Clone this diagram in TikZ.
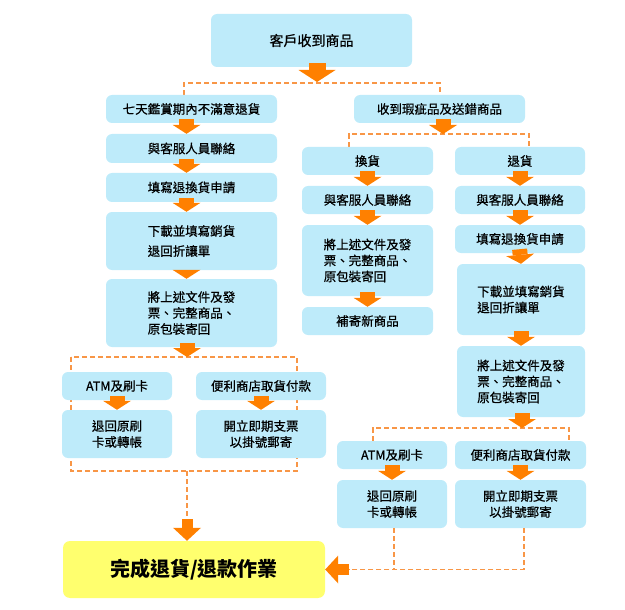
\documentclass[tikz,border=0pt]{standalone}
\usepackage{fontspec}
\setmainfont{Noto Sans CJK TC}
\newfontfamily\boxfont{Noto Sans CJK TC}[FakeBold=0.7]
\usetikzlibrary{arrows.meta}
\usetikzlibrary{backgrounds}

\definecolor{boxblue}{RGB}{190,235,250}
\definecolor{arroworange}{RGB}{255,128,0}
\definecolor{dashorange}{RGB}{248,150,70}
\definecolor{doneyellow}{RGB}{255,255,110}

\begin{document}
\begin{tikzpicture}[
    x=1pt, y=-1pt,
    box/.style={fill=boxblue, rounded corners=6pt, inner sep=0pt, minimum height=28pt,
        font=\boxfont\fontsize{12.5}{16}\selectfont, align=center},
    colL/.style={box, minimum width=171pt},
    colR/.style={box, minimum width=130pt},
    pay/.style={box, minimum width=110pt},
    fat/.style={arroworange, line width=15pt, shorten <=-4pt,
        -{Triangle[width=28pt,length=9pt,line width=0pt]}},
    big/.style={line width=17pt, -{Triangle[width=37pt,length=12pt,line width=0pt]}},
    fatS/.style={arroworange, line width=11pt,
        -{Triangle[width=28pt,length=13pt,line width=0pt]}},
    bracket/.style={dashorange, line width=1.2pt, dash pattern=on 5pt off 3pt},
 ]
    \useasboundingbox (0,0) rectangle (625,610);

    \node[box, minimum width=201pt, minimum height=53pt, font=\boxfont\fontsize{14}{16}\selectfont] (top) at (311.5,40.5) {客戶收到商品};
    \coordinate (tm) at (317,82);
    \coordinate (t1) at (184,83);
    \coordinate (t2) at (440,83);

    \node[colL] (L1) at (191.5,109) {七天鑑賞期內不滿意退貨};
    \node[colL, minimum height=29pt] (L2) at (191.5,148.5) {與客服人員聯絡};
    \node[colL, minimum height=29pt] (L3) at (191.5,187.5) {填寫退換貨申請};
    \node[colL, minimum height=58pt, align=left] (L4) at (191.5,241) {下載並填寫銷貨\\[4pt]退回折讓單};
    \node[colL, minimum height=68pt, align=left] (L5) at (191.5,313) {將上述文件及發\\票、完整商品、\\原包裝寄回};

    \coordinate (lin) at (187,357);
    \coordinate (lfA) at (71,357);
    \coordinate (lfB) at (297,471);
    \coordinate (lbot) at (187,471);
    \coordinate (ldrop) at (187,519);
    \node[pay] (LA) at (117,386) {ATM及刷卡};
    \node[box, minimum width=130pt] (LB) at (261,386) {便利商店取貨付款};
    \node[pay, minimum height=48pt] (LC) at (117,434) {退回原刷\\卡或轉帳};
    \node[box, minimum width=130pt, minimum height=48pt] (LD) at (261,434) {開立即期支票\\以掛號郵寄};

    \node[colL] (R0) at (439.5,109) {收到瑕疵品及送錯商品};
    \coordinate (rm) at (443,134);
    \coordinate (ra) at (349,134);
    \coordinate (rb) at (529,134);

    \node[colR, minimum width=131pt] (A1) at (367.5,161) {換貨};
    \node[colR, minimum width=131pt] (A2) at (367.5,200) {與客服人員聯絡};
    \node[colR, minimum width=131pt, minimum height=71pt, align=left] (A3) at (367.5,260.5) {將上述文件及發\\票、完整商品、\\原包裝寄回};
    \node[colR, minimum width=131pt] (A4) at (367.5,321) {補寄新商品};

    \node[colR] (B1) at (520,161) {退貨};
    \node[colR] (B2) at (520,200) {與客服人員聯絡};
    \node[colR] (B3) at (520,239) {填寫退換貨申請};
    \node[colR, minimum width=128pt, minimum height=71pt, align=left] (B4) at (521,299.5) {下載並填寫銷貨\\退回折讓單};
    \node[colR, minimum width=128pt, minimum height=71pt, align=left] (B5) at (521,381.5) {將上述文件及發\\票、完整商品、\\原包裝寄回};

    \coordinate (pm) at (522,428);
    \coordinate (pa) at (373,428);
    \coordinate (pb) at (569,428);
    \node[pay] (RA) at (392,455) {ATM及刷卡};
    \node[colR, minimum width=131pt] (RB) at (520.5,455) {便利商店取貨付款};
    \node[pay, minimum height=48pt] (RC) at (392,504) {退回原刷\\卡或轉帳};
    \node[colR, minimum width=131pt, minimum height=48pt] (RD) at (520.5,504) {開立即期支票\\以掛號郵寄};

    \node[fill=doneyellow, rounded corners=7pt, inner sep=0pt, minimum width=262pt, minimum height=57pt,
        font=\fontsize{20}{24}\selectfont\bfseries] (F) at (194,569.5) {完成退貨/退款作業};
    \coordinate (rc) at (394,569.5);
    \coordinate (rd) at (524,569.5);
    \coordinate (rj) at (349,569.5);

    \begin{scope}[on background layer]
        \draw[bracket] (L1.north -| t1) |- (t2) -- (R0.north -| t2);
        \draw[bracket] (A1.north -| ra) |- (rb) -- (B1.north -| rb);
        \draw[bracket] (lfA) rectangle (lfB);
        \draw[bracket] (RA.north -| pa) |- (pb) -- (RB.north -| pb);
    \end{scope}
    \draw[bracket] (lbot) -- (ldrop);
    \draw[bracket] (RC.south -| rc) -- (rc);
    \draw[bracket] (RD.south -| rd) -- (rd) -- (rj);

    \draw[fat, big] (top.south -| tm) -- (tm);
    \foreach \a/\b in {L1/L2,L2/L3,L3/L4,L4/L5}
        \draw[fat] ([xshift=-5pt]\a.south) -- ([xshift=-5pt]\b.north);
    \draw[fat] (L5.south -| lin) -- (lin);
    \draw[fat] (LA.south) -- (LC.north);
    \draw[fat] (LB.south) -- (LD.north);
    \draw[fat] (R0.south -| rm) -- (rm);
    \foreach \a/\b in {A1/A2,A2/A3,A3/A4,B1/B2,B2/B3,B3/B4,B4/B5,RA/RC,RB/RD}
        \draw[fat] (\a.south) -- (\b.north);
    \draw[fat] (B5.south -| pm) -- (pm);
    \draw[fatS] (ldrop) -- (F.north -| ldrop);
    \draw[fatS] (rj) -- (F.east);
\end{tikzpicture}
\end{document}
